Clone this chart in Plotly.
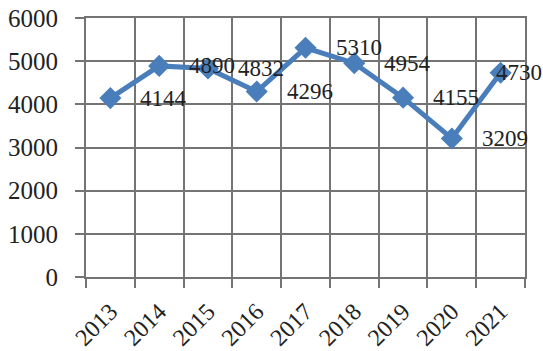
import plotly.graph_objects as go

years = ["2013", "2014", "2015", "2016", "2017", "2018", "2019", "2020", "2021"]
values = [4144, 4890, 4832, 4296, 5310, 4954, 4155, 3209, 4730]
y_ticks = [0, 1000, 2000, 3000, 4000, 5000, 6000]

line_color = "#4A7EBB"
grid_color = "#747474"
text_color = "#222222"
font_family = "Liberation Serif, Times New Roman, serif"

fig = go.Figure()
fig.add_trace(go.Scatter(
    x=years, y=values, mode="lines+markers",
    line=dict(color=line_color, width=5),
    marker=dict(symbol="diamond", size=17, color=line_color),
    cliponaxis=False, showlegend=False,
))

# value labels sit to the right of each point; the last one is pulled back inside
annotations = []
for i, v in enumerate(values):
    shift = -7 if i == len(values) - 1 else 28
    annotations.append(dict(
        xref="x", yref="y", x=i, y=v, text=str(v), showarrow=False,
        xanchor="left", yanchor="middle", xshift=shift,
        font=dict(family=font_family, size=23, color=text_color),
    ))

fig.update_layout(
    width=543, height=351,
    margin=dict(l=86, r=18, t=18, b=74),
    paper_bgcolor="white", plot_bgcolor="white",
    font=dict(family=font_family, color=text_color),
    annotations=annotations,
)
fig.update_xaxes(
    type="category", range=[-0.5, 8.5], automargin=False,
    tickson="boundaries", ticks="outside", ticklen=9, tickwidth=2, tickcolor=grid_color,
    showgrid=True, gridcolor=grid_color, gridwidth=2,
    showline=True, linecolor=grid_color, linewidth=2, mirror=True,
    tickangle=-45, ticklabelstandoff=9,
    tickfont=dict(family=font_family, size=24, color=text_color),
)
fig.update_yaxes(
    range=[0, 6000], tickvals=y_ticks, automargin=False,
    ticks="outside", ticklen=9, tickwidth=2, tickcolor=grid_color,
    showgrid=True, gridcolor=grid_color, gridwidth=2,
    showline=True, linecolor=grid_color, linewidth=2, mirror=True,
    zeroline=False, ticklabelstandoff=12,
    tickfont=dict(family=font_family, size=25, color=text_color),
)

fig.write_html("out.html")
